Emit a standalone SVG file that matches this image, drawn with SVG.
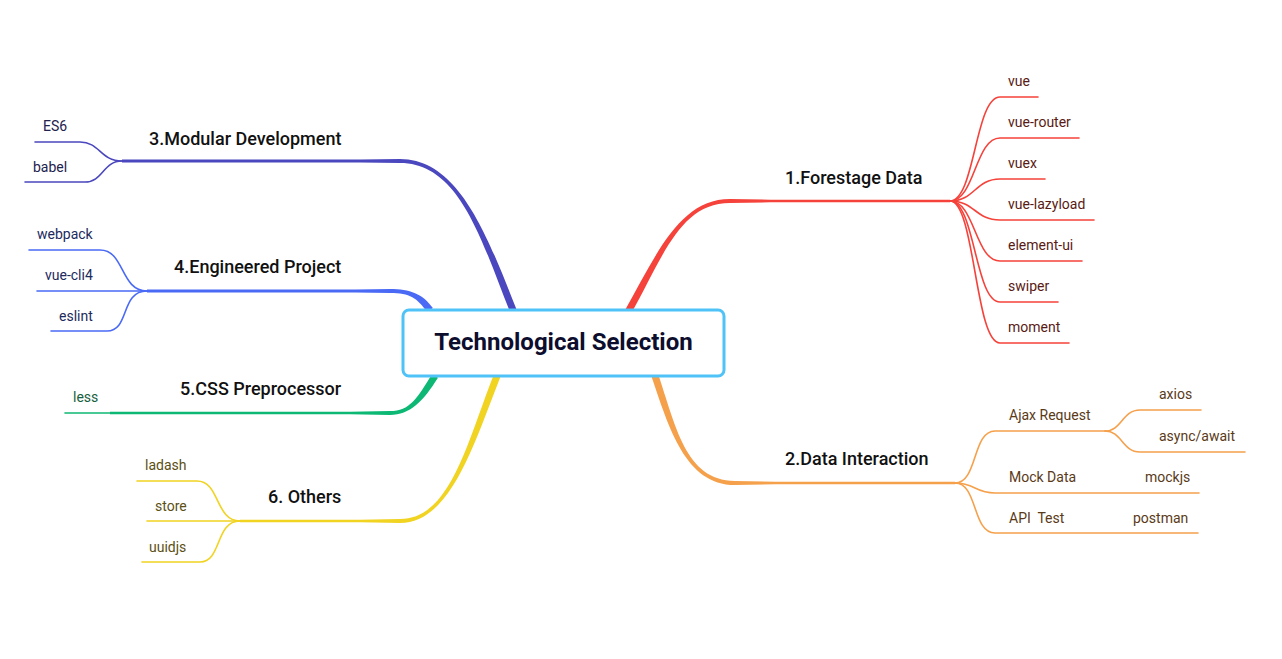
<svg xmlns="http://www.w3.org/2000/svg" width="1282" height="659" viewBox="0 0 1282 659">
<style>
.t{font-family:Roboto,"Liberation Sans",sans-serif}
.main{font-size:18px;font-weight:500;fill:#111111}
.leaf{font-size:14px}
.c{fill:none;stroke-linecap:round}
.thin{stroke-width:1.6}
.red{stroke:#F5423A}.orange{stroke:#F5A04B}.indigo{stroke:#4B47BE}.blue{stroke:#4A6AF6}.green{stroke:#0CB874}.yellow{stroke:#F1D322}
.fred{fill:#F5423A}.forange{fill:#F5A04B}.findigo{fill:#4B47BE}.fblue{fill:#4A6AF6}.fgreen{fill:#0CB874}.fyellow{fill:#F1D322}
</style>
<rect width="1282" height="659" fill="#ffffff"/>
<g id="connectors">
  <!-- red -->
  <path class="fred" d="M631.05 313.71 C663.05 256.71 680 203 730 203 L770 202.3 L950 202.3 L950 199.7 L770 199.7 L730 199 C680 199 656.95 253.29 624.95 310.29 Z"/>
  <g class="c thin red">
    <path d="M950 201 C975 201 975 97 1000 97 L1038 97"/>
    <path d="M950 201 C975 201 975 138 1000 138 L1079 138"/>
    <path d="M950 201 C975 201 975 179 1000 179 L1045 179"/>
    <path d="M950 201 C975 201 975 220 1000 220 L1094 220"/>
    <path d="M950 201 C975 201 975 261 1000 261 L1082 261"/>
    <path d="M950 201 C975 201 975 302 1000 302 L1058 302"/>
    <path d="M950 201 C975 201 975 343 1000 343 L1069 343"/>
  </g>
  <!-- orange -->
  <path class="forange" d="M658.3 374.85 C675.3 423.85 685 481 735 481 L775 481.7 L955 481.7 L955 484.3 L775 484.3 L735 485 C685 485 668.7 426.15 651.7 377.15 Z"/>
  <g class="c thin orange">
    <path d="M955 483 C978 483 972 431 995 431 L1105 431"/>
    <path d="M955 483 C975 483 975 493 995 493 L1199 493"/>
    <path d="M955 483 C978 483 972 533 995 533 L1198 533"/>
    <path d="M1105 431 C1122 431 1122 410 1140 410 L1201 410"/>
    <path d="M1105 431 C1122 431 1122 452 1140 452 L1245 452"/>
  </g>
  <!-- indigo -->
  <path class="findigo" d="M509.75 311.3 C481.75 241.3 460 163 400 163 L360 162.4 L122 162.4 L122 159.6 L360 159.6 L400 159 C460 159 488.25 238.7 516.25 308.7 Z"/>
  <g class="c thin indigo">
    <path d="M122 161 C100 161 100 142 80 142 L35 142"/>
    <path d="M122 161 C103 161 103 182 85 182 L25 182"/>
  </g>
  <!-- blue -->
  <path class="fblue" d="M427.15 312.03 C417.15 298.03 410 293 390 293 L355 292.4 L147 292.4 L147 289.6 L355 289.6 L390 289 C410 289 422.85 293.97 432.85 307.97 Z"/>
  <g class="c thin blue">
    <path d="M147 291 C120 291 125 250 100 250 L29 250"/>
    <path d="M147 291 L37 291"/>
    <path d="M147 291 C120 291 130 331 107 331 L51 331"/>
  </g>
  <!-- green -->
  <path class="fgreen" d="M437.97 377.86 C422.97 401.86 410 415 390 415 L350 414.3 L110 414.3 L110 411.7 L350 411.7 L390 411 C410 411 417.03 398.14 432.03 374.14 Z"/>
  <path class="c thin green" d="M112 413 L65 413"/>
  <!-- yellow -->
  <path class="fyellow" d="M500.26 377.27 C473.26 446.27 450 523 400 523 L360 522.3 L240 522.3 L240 519.7 L360 519.7 L400 519 C450 519 466.74 443.73 493.74 374.73 Z"/>
  <g class="c thin yellow">
    <path d="M240 521 C215 521 220 481 197 481 L137 481"/>
    <path d="M240 521 L147 521"/>
    <path d="M240 521 C215 521 222 562 200 562 L142 562"/>
  </g>
</g>
<g id="root">
  <rect x="403" y="310" width="321" height="66" rx="6" fill="#ffffff" stroke="#4FC3F7" stroke-width="3"/>
  <text class="t" x="563.5" y="350" text-anchor="middle" font-size="24" font-weight="700" fill="#0D0D2E">Technological Selection</text>
</g>
<g id="n1"><text class="t main" x="785" y="184">1.Forestage Data</text></g>
<g id="n1-leaves" class="t leaf" fill="#5A1A14">
  <text x="1008" y="86">vue</text>
  <text x="1008" y="127">vue-router</text>
  <text x="1008" y="168">vuex</text>
  <text x="1008" y="209">vue-lazyload</text>
  <text x="1008" y="250">element-ui</text>
  <text x="1008" y="291">swiper</text>
  <text x="1008" y="332">moment</text>
</g>
<g id="n2"><text class="t main" x="785" y="465">2.Data Interaction</text></g>
<g id="n2-leaves" class="t leaf" fill="#5A3A18">
  <text x="1009" y="420">Ajax Request</text>
  <text x="1009" y="482">Mock Data</text>
  <text x="1009" y="523" xml:space="preserve">API  Test</text>
  <text x="1159" y="399">axios</text>
  <text x="1159" y="441">async/await</text>
  <text x="1145" y="482">mockjs</text>
  <text x="1133" y="523">postman</text>
</g>
<g id="n3"><text class="t main" x="149" y="145">3.Modular Development</text></g>
<g id="n3-leaves" class="t leaf" fill="#22224E">
  <text x="43" y="131">ES6</text>
  <text x="33" y="172">babel</text>
</g>
<g id="n4"><text class="t main" x="174" y="273">4.Engineered Project</text></g>
<g id="n4-leaves" class="t leaf" fill="#1C2A5E">
  <text x="37" y="239">webpack</text>
  <text x="45" y="280">vue-cli4</text>
  <text x="59" y="321">eslint</text>
</g>
<g id="n5"><text class="t main" x="180" y="395">5.CSS Preprocessor</text></g>
<g id="n5-leaves" class="t leaf" fill="#17603E">
  <text x="73" y="402">less</text>
</g>
<g id="n6"><text class="t main" x="268" y="503">6. Others</text></g>
<g id="n6-leaves" class="t leaf" fill="#5C4F14">
  <text x="145" y="470">ladash</text>
  <text x="155" y="511">store</text>
  <text x="149" y="552">uuidjs</text>
</g>
</svg>
